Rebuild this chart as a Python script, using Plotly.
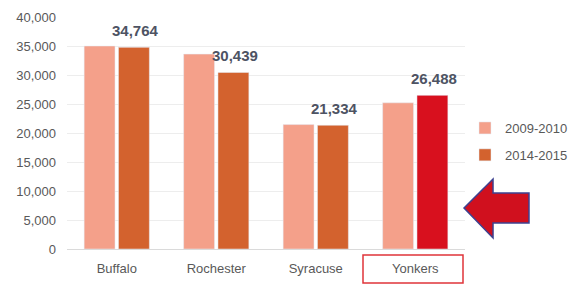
import plotly.graph_objects as go

cities = ["Buffalo", "Rochester", "Syracuse", "Yonkers"]
s2009 = [35000, 33600, 21450, 25200]
s2014 = [34764, 30439, 21334, 26488]
series_names = ["2009-2010", "2014-2015"]
y_ticks = [0, 5000, 10000, 15000, 20000, 25000, 30000, 35000, 40000]

light = "#F4A08A"
dark = "#D3622E"
highlight = "#D8101E"
dark_colors = [highlight if c == "Yonkers" else dark for c in cities]

fig = go.Figure()
fig.add_trace(go.Bar(x=cities, y=s2009, name=series_names[0], marker_color=light,
                     legendgroup="a"))
fig.add_trace(go.Bar(x=cities, y=s2014, name=series_names[1], marker_color=dark_colors,
                     legendgroup="b"))

for c, v in zip(cities, s2014):
    fig.add_annotation(x=c, y=v, text=f"<b>{v:,}</b>", showarrow=False,
                       xshift=18.5, yshift=6, yanchor="bottom",
                       font=dict(size=15, color="#4D5363", family="Liberation Sans"))

# highlight arrow (paper coords)
L, R, T, B = 67, 465, 17, 249
def px(x): return (x - L) / (R - L)
def py(y): return (B - y) / (B - T)
pts = [(464, 208), (493, 179), (493, 193), (529, 193), (529, 223), (493, 223), (493, 238)]
path = "M " + " L ".join(f"{px(x):.4f},{py(y):.4f}" for x, y in pts) + " Z"
fig.add_shape(type="path", path=path, xref="paper", yref="paper",
              fillcolor="#D0101E", line=dict(color="#3D4190", width=1.5))
fig.add_shape(type="rect", xref="paper", yref="paper",
              x0=px(363), x1=px(463), y0=py(255), y1=py(283),
              line=dict(color="#E0343A", width=1.5), fillcolor="rgba(0,0,0,0)")

fig.update_layout(
    width=571, height=285,
    margin=dict(l=67, r=106, t=17, b=36, autoexpand=False),
    paper_bgcolor="white", plot_bgcolor="white",
    barmode="group", bargap=0.31, bargroupgap=0.1,
    font=dict(family="Liberation Sans", size=13, color="#595959"),
    showlegend=True,
    legend=dict(x=px(465), y=py(113), xanchor="left", yanchor="top",
                tracegroupgap=7, font=dict(size=13, color="#595959"),
                bgcolor="rgba(0,0,0,0)"),
    xaxis=dict(showgrid=False, showline=False, ticks="", tickfont=dict(size=13),
               ticklabelstandoff=10),
    yaxis=dict(range=[0, 40000], tickvals=y_ticks, tickformat=",d",
               showgrid=True, gridcolor="#EDEDED", gridwidth=1,
               zeroline=True, zerolinecolor="#DADADA", zerolinewidth=1,
               ticks="", ticklabelstandoff=10, tickfont=dict(size=13)),
)

fig.write_html("out.html", config={"displayModeBar": False},
               post_script="document.body.style.margin='0';document.body.style.overflow='hidden';")
